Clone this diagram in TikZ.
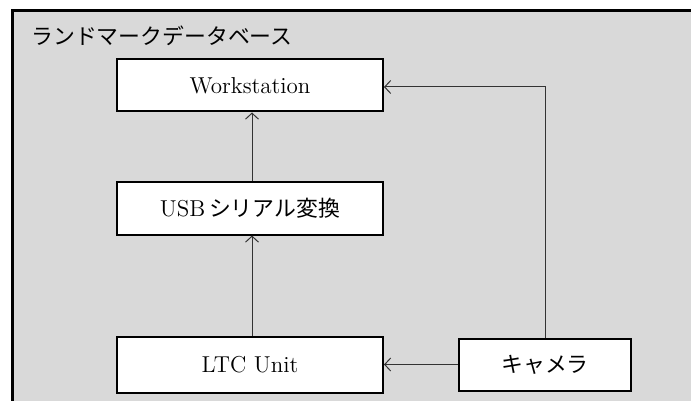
\documentclass[tikz,border=0pt]{standalone}
\usepackage{fontspec}
\newfontfamily\jpfont[Scale=0.95]{Noto Sans CJK JP}
\usepackage{tikz}
\usetikzlibrary{positioning}
\usetikzlibrary{arrows.meta}
\definecolor{bggray}{HTML}{D9D9D9}
\tikzset{%
  box/.style = {rectangle,draw,fill=white,line width=1pt,
        minimum width=133pt,minimum height=26pt},
  link/.style = {-{Straight Barb[length=3pt,width=6.5pt]},draw=black!80,line width=0.5pt}
}

\begin{document}
\begin{tikzpicture}[x=0.5pt,y=-0.5pt]\fontsize{11.5}{13}\selectfont
                    \useasboundingbox (0,0) rectangle (691,401);
                    \clip (0,0) rectangle (691,401);
                    \draw[fill=bggray,line width=1.5pt] (12,11) rectangle (720,430);
                    \node[anchor=west,inner sep=0pt] (title) at (31,36) {\jpfont ランドマークデータベース};

                    \node[box] (ws) at (250,85.5) {Workstation};
                    \node[box] (usb) [below=34.5pt of ws] {USB\,{\jpfont シリアル変換}};
                    \node[box,minimum height=28pt] (ltc) [below=50pt of usb] {LTC Unit};
                    \node[box,minimum width=86pt] (cam) [right=37pt of ltc] {\jpfont キャメラ};

                    \draw[link] ([xshift=1pt]usb.north) -- ([xshift=1pt]ws.south);
                    \draw[link] ([xshift=1pt]ltc.north) -- ([xshift=1pt]usb.south);
                    \draw[link] (cam) -- (ltc);
                    \draw[link] (cam.north) |- ([yshift=-0.75pt]ws.east);
                 \end{tikzpicture}
\end{document}
